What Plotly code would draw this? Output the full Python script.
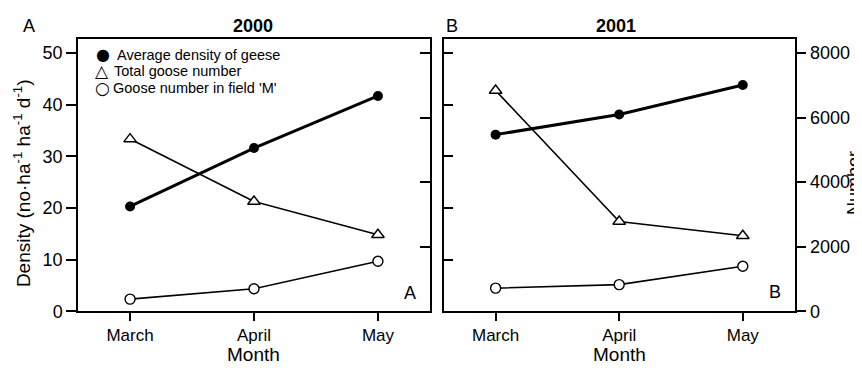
import plotly.graph_objects as go

months = ["March", "April", "May"]
density_2000 = [20.3, 31.6, 41.7]
total_2000 = [5335, 3400, 2370]
fieldM_2000 = [375, 695, 1550]
density_2001 = [34.2, 38.1, 43.8]
total_2001 = [6840, 2780, 2340]
fieldM_2001 = [715, 825, 1395]
density_ticks = [0, 10, 20, 30, 40, 50]
number_ticks = [0, 2000, 4000, 6000, 8000]
legend_labels = ["Average density of geese", "Total goose number", "Goose number in field 'M'"]

W, H = 862, 368
FONT = "Liberation Sans, Arial, Helvetica, sans-serif"

def px(x):
    return x / W

def py(y):
    return 1 - y / H

fig = go.Figure()

def add_panel(xa, ya_d, ya_n, dens, tot, fm):
    fig.add_trace(go.Scatter(x=months, y=tot, xaxis=xa, yaxis=ya_n, mode="lines+markers",
                             line=dict(color="black", width=1.6),
                             marker=dict(symbol="triangle-up", size=11, color="white",
                                         line=dict(color="black", width=1.4)),
                             showlegend=False))
    fig.add_trace(go.Scatter(x=months, y=fm, xaxis=xa, yaxis=ya_n, mode="lines+markers",
                             line=dict(color="black", width=1.6),
                             marker=dict(symbol="circle", size=10, color="white",
                                         line=dict(color="black", width=1.4)),
                             showlegend=False))
    fig.add_trace(go.Scatter(x=months, y=dens, xaxis=xa, yaxis=ya_d, mode="lines+markers",
                             line=dict(color="black", width=3),
                             marker=dict(symbol="circle", size=10, color="black"),
                             showlegend=False))

add_panel("x", "y", "y2", density_2000, total_2000, fieldM_2000)
add_panel("x2", "y3", "y4", density_2001, total_2001, fieldM_2001)

ydom = [py(311.7), py(32.3)]
drange = [0, 52.64]
nrange = [0, 52.64 * 160]
xrange_ = [-0.42, 2.42]

axis_common = dict(showgrid=False, zeroline=False, showline=True, linecolor="black",
                   linewidth=1.5, tickcolor="black", tickwidth=1.5)

xcommon = dict(axis_common, range=xrange_, ticks="outside", ticklen=8, mirror=True,
               tickfont=dict(size=17, color="black", family=FONT), type="category")

fig.update_layout(
    width=W, height=H,
    margin=dict(l=0, r=0, t=0, b=0),
    paper_bgcolor="white", plot_bgcolor="white",
    font=dict(family=FONT, color="black"),
    showlegend=False,
    xaxis=dict(xcommon, domain=[px(70), px(422)], anchor="y"),
    xaxis2=dict(xcommon, domain=[px(435.7), px(786.7)], anchor="y3"),
    yaxis=dict(axis_common, domain=ydom, range=drange, anchor="x", side="left",
               tickvals=density_ticks, ticks="outside", ticklen=10,
               tickfont=dict(size=18, color="black", family=FONT)),
    yaxis2=dict(axis_common, domain=ydom, range=nrange, anchor="x", overlaying="y", side="right",
                tickvals=number_ticks, ticks="inside", ticklen=10, showticklabels=False),
    yaxis3=dict(axis_common, domain=ydom, range=drange, anchor="x2", side="left",
                tickvals=density_ticks, ticks="inside", ticklen=10, showticklabels=False),
    yaxis4=dict(axis_common, domain=ydom, range=nrange, anchor="x2", overlaying="y3", side="right",
                tickvals=number_ticks, ticks="outside", ticklen=10,
                tickfont=dict(size=18, color="black", family=FONT)),
)

def ann(text, x, y, size=18, bold=False, xanchor="center", angle=0, family=FONT):
    fig.add_annotation(text=("<b>%s</b>" % text) if bold else text,
                       x=px(x), y=py(y), xref="paper", yref="paper",
                       xanchor=xanchor, yanchor="middle", showarrow=False, textangle=angle,
                       font=dict(size=size, color="black", family=family))

ann("A", 20.7, 19, size=18)
ann("2000", 245, 19, size=18, bold=True)
ann("B", 444.3, 19, size=18)
ann("2001", 607.7, 19, size=18, bold=True)
ann("A", 401.7, 293.3, size=18)
ann("B", 766.7, 292.3, size=18)
ann("Month", 246, 356, size=19)
ann("Month", 611, 356, size=19)
ann("Density (no·ha<sup>-1</sup> ha<sup>-1</sup> d<sup>-1</sup>)", 14, 180, size=19, angle=-90)
ann("Number", 846, 180, size=18, angle=-90)

# legend (symbols + text)
sym = ["●", "△", "○"]
rows = [48.3, 65, 82.7]
symx = [95, 93.5, 94.3]
textx = [106.5, 104.3, 103.3]
symsize = [16, 17, 17]
for s, t, yy, sx, tx, ss in zip(sym, legend_labels, rows, symx, textx, symsize):
    ann(s, sx, yy, size=ss, xanchor="center", family="DejaVu Sans")
    ann(t, tx, yy, size=14.5, xanchor="left")

fig.write_html("out.html")
